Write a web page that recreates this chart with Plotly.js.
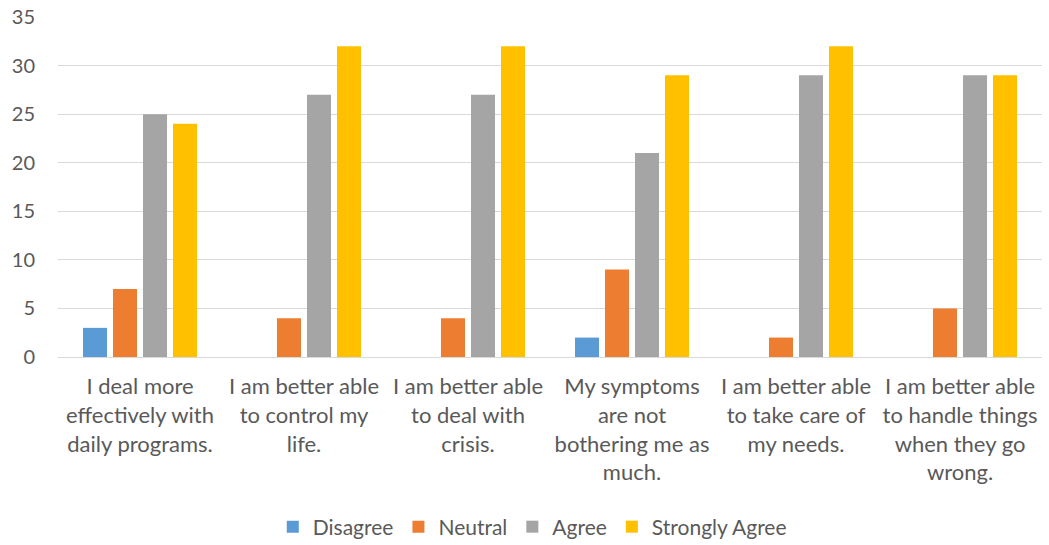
<!DOCTYPE html>
<html>
<head>
<meta charset="utf-8">
<script src="https://cdn.plot.ly/plotly-3.0.1.min.js"></script>
<style>html,body{margin:0;padding:0;background:#fff;}#chart{width:1049px;height:545px;}</style>
</head>
<body>
<div id="chart"></div>
<script>
const categories = [
  "I deal more<br>effectively with<br>daily programs.",
  "I am better able<br>to control my<br>life.",
  "I am better able<br>to deal with<br>crisis.",
  "My symptoms<br>are not<br>bothering me as<br>much.",
  "I am better able<br>to take care of<br>my needs.",
  "I am better able<br>to handle things<br>when they go<br>wrong."
];
const seriesNames = ["Disagree", "Neutral", "Agree", "Strongly Agree"];
const disagree = [3, 0, 0, 2, 0, 0];
const neutral = [7, 4, 4, 9, 2, 5];
const agree = [25, 27, 27, 21, 29, 29];
const stronglyAgree = [24, 32, 32, 29, 32, 29];
const colors = ["#5b9bd5", "#ed7d31", "#a5a5a5", "#ffc000"];
const yTicks = [0, 5, 10, 15, 20, 25, 30, 35];

const values = [disagree, neutral, agree, stronglyAgree];
const traces = values.map((v, i) => ({
  type: "bar",
  name: seriesNames[i],
  x: categories,
  y: v,
  marker: {color: colors[i]},
  hoverinfo: "none"
}));

const layout = {
  width: 1049,
  height: 545,
  margin: {l: 58, r: 7, t: 17, b: 188, autoexpand: false},
  paper_bgcolor: "#ffffff",
  plot_bgcolor: "#ffffff",
  font: {family: "Lato, 'Open Sans', sans-serif", color: "#595959", size: 20},
  barmode: "group",
  bargap: 0.268,
  bargroupgap: 0.2,
  showlegend: true,
  legend: {
    orientation: "h",
    xref: "paper",
    x: 0.482, xanchor: "center",
    yref: "container",
    y: 0.033, yanchor: "middle",
    font: {size: 21, color: "#595959"},
    itemwidth: 30,
    traceorder: "normal"
  },
  xaxis: {
    type: "category",
    tickangle: 0,
    tickfont: {size: 22, color: "#595959"},
    showgrid: false,
    showline: true,
    linecolor: "#d9d9d9",
    linewidth: 1,
    ticks: "",
    ticklabelstandoff: 10,
    automargin: false
  },
  yaxis: {
    range: [0, 35],
    tickvals: yTicks,
    ticktext: yTicks.map(String),
    tickfont: {size: 20, color: "#595959"},
    showgrid: true,
    gridcolor: "#d9d9d9",
    gridwidth: 1,
    zeroline: true,
    zerolinecolor: "#d9d9d9",
    showline: false,
    ticks: "",
    ticklabelstandoff: 22,
    automargin: false
  }
};

Plotly.newPlot("chart", traces, layout, {staticPlot: true});
</script>
</body>
</html>
